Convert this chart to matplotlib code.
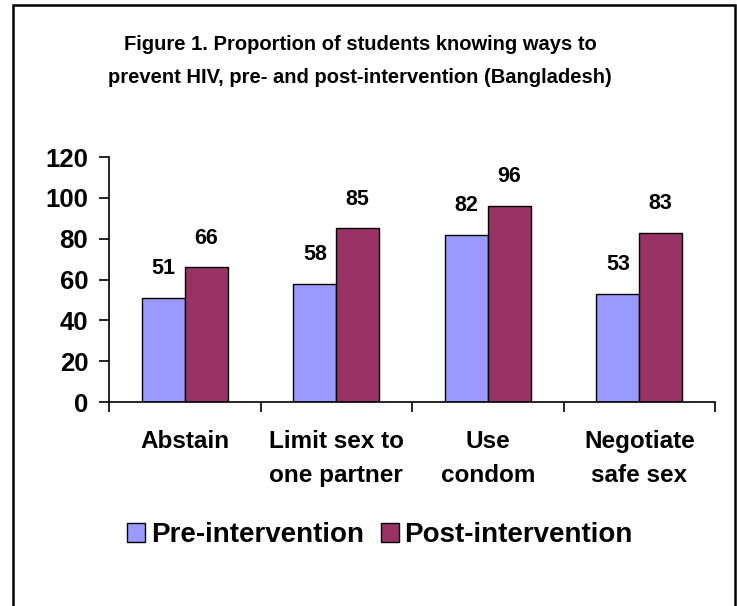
import matplotlib
matplotlib.use("Agg")
import matplotlib.pyplot as plt
import numpy as np
from matplotlib.patches import Rectangle

categories = ["Abstain", "Limit sex to\none partner", "Use\ncondom", "Negotiate\nsafe sex"]
pre_values = [51, 58, 82, 53]
post_values = [66, 85, 96, 83]
series_names = ["Pre-intervention", "Post-intervention"]
title = "Figure 1. Proportion of students knowing ways to\nprevent HIV, pre- and post-intervention (Bangladesh)"
yticks = [0, 20, 40, 60, 80, 100, 120]

plt.rcParams['font.family'] = ['Liberation Sans', 'DejaVu Sans']
plt.rcParams['font.weight'] = 'bold'

W, H = 737, 606
fig = plt.figure(figsize=(W/100, H/100), dpi=100)
fig.patch.set_facecolor('white')

# frame
fig.patches.append(Rectangle((13/W, -0.05), (735-13)/W, 1.05 - 5/H, transform=fig.transFigure,
                             fill=False, edgecolor='black', linewidth=1.8, clip_on=False))

ax = fig.add_axes([109/W, 1-402/H, (715-109)/W, (402-157)/H])
x = np.arange(len(categories))
bw = 0.283
c_pre = '#9999FF'
c_post = '#993366'
b1 = ax.bar(x - bw/2, pre_values, bw, color=c_pre, edgecolor='black', linewidth=1.0, label=series_names[0])
b2 = ax.bar(x + bw/2, post_values, bw, color=c_post, edgecolor='black', linewidth=1.0, label=series_names[1])

for bars, vals in ((b1, pre_values), (b2, post_values)):
    for r, v in zip(bars, vals):
        ax.annotate(str(v), (r.get_x() + r.get_width()/2, v), xytext=(0, 21), textcoords='offset points',
                    ha='center', va='center', fontsize=15.5, fontweight='bold')

ax.set_xlim(-0.5, len(categories) - 0.5)
ax.set_ylim(0, 120)
ax.set_yticks(yticks)
ax.set_yticklabels([str(t) for t in yticks], fontsize=18.5, fontweight='bold')
ax.set_xticks(x)
ax.set_xticklabels(categories, fontsize=17.5, fontweight='bold', linespacing=1.65)
ax.set_xticks(np.arange(len(categories) + 1) - 0.5, minor=True)
ax.tick_params(axis='x', which='major', length=0, pad=20)
ax.tick_params(axis='x', which='minor', length=7, width=1.2, direction='out')
ax.tick_params(axis='y', length=7, width=1.2, direction='out', pad=8)
for s in ['top', 'right']:
    ax.spines[s].set_visible(False)
ax.spines['left'].set_linewidth(1.2)
ax.spines['bottom'].set_linewidth(1.2)

fig.text(360/W, 1-61/H, title, ha='center', va='center', fontsize=14.5, fontweight='bold', linespacing=1.9)

leg = fig.legend(handles=[b1, b2], loc='center', bbox_to_anchor=(380/W, 1-535/H), ncol=2, frameon=False,
                 handlelength=0.65, handleheight=0.65, handletextpad=0.2, columnspacing=0.6,
                 prop={'weight': 'bold', 'size': 20})

fig.savefig('out.png', dpi=100)
